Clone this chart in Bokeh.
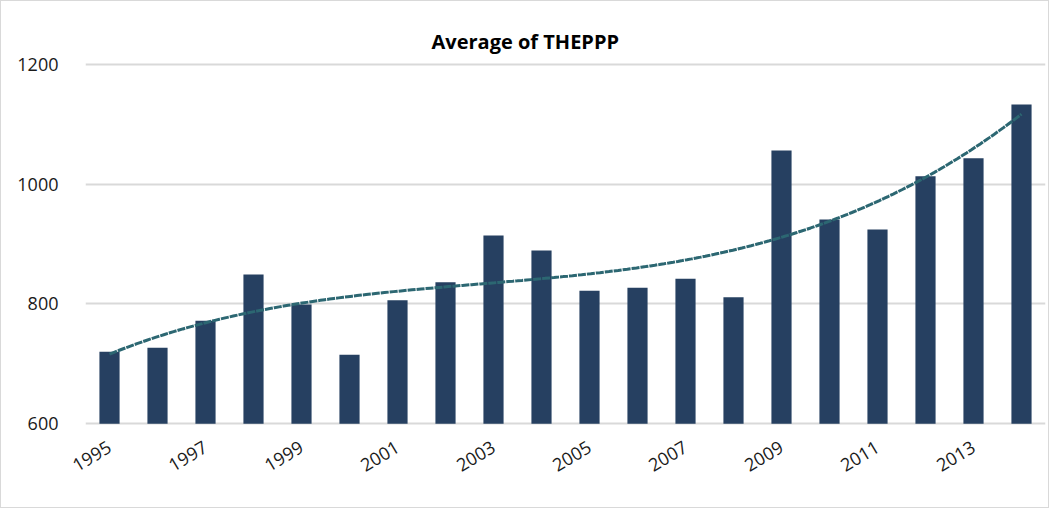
import numpy as np
from bokeh.plotting import figure
from bokeh.models import FixedTicker, Range1d, Title, ColumnDataSource
from bokeh.embed import file_html
from bokeh.resources import INLINE

years = list(range(1995, 2015))
values = [720, 727, 772, 849, 799, 715, 806, 836, 914, 889,
          822, 827, 842, 811, 1056, 941, 924, 1013, 1043, 1133]
y_ticks = [600, 800, 1000, 1200]
x_ticks = [1995, 1997, 1999, 2001, 2003, 2005, 2007, 2009, 2011, 2013]
title_text = "Average of THEPPP"

# polynomial trendline (order 3) computed from the data, as Excel does
t = np.array(years, dtype=float) - years[0]
coef = np.polyfit(t, np.array(values, dtype=float), 3)
tt = np.linspace(t[0], t[-1], 200)
trend_x = tt + years[0]
trend_y = np.polyval(coef, tt)

p = figure(width=1049, height=508, output_backend="svg", toolbar_location=None,
           x_range=Range1d(1994.5, 2014.5), y_range=Range1d(597, 1203),
           min_border_left=84, min_border_right=5, min_border_top=61, min_border_bottom=84)
p.styles = {"border": "1px solid #d9d9d9"}
p.outline_line_color = None
p.background_fill_color = "white"

src = ColumnDataSource(dict(x=years, top=values))
p.vbar(x="x", top="top", bottom=600, width=0.42, source=src,
       fill_color="#264061", line_color=None)
p.line(trend_x, trend_y, line_color="#2C6772", line_width=3, line_dash="8 1")

title = Title(text=title_text, align="left", offset=346, standoff=15,
              text_font="Open Sans", text_font_size="20px", text_font_style="bold",
              text_color="#000000")
p.add_layout(title, "above")

p.yaxis.ticker = FixedTicker(ticks=y_ticks)
p.xaxis.ticker = FixedTicker(ticks=x_ticks)
p.ygrid.ticker = FixedTicker(ticks=y_ticks)
p.xgrid.grid_line_color = None
p.ygrid.grid_line_color = "#d9d9d9"
p.ygrid.grid_line_width = 2

for ax in (p.xaxis, p.yaxis):
    ax.axis_line_color = None
    ax.major_tick_line_color = None
    ax.minor_tick_line_color = None
    ax.major_label_text_font = "Open Sans"
    ax.major_label_text_font_size = "18px"
    ax.major_label_text_color = "#1a1a1a"

p.xaxis.major_label_orientation = 0.54
p.xaxis.major_label_standoff = 14
p.yaxis.major_label_standoff = 21

open("out.html", "w").write(file_html(p, INLINE))
